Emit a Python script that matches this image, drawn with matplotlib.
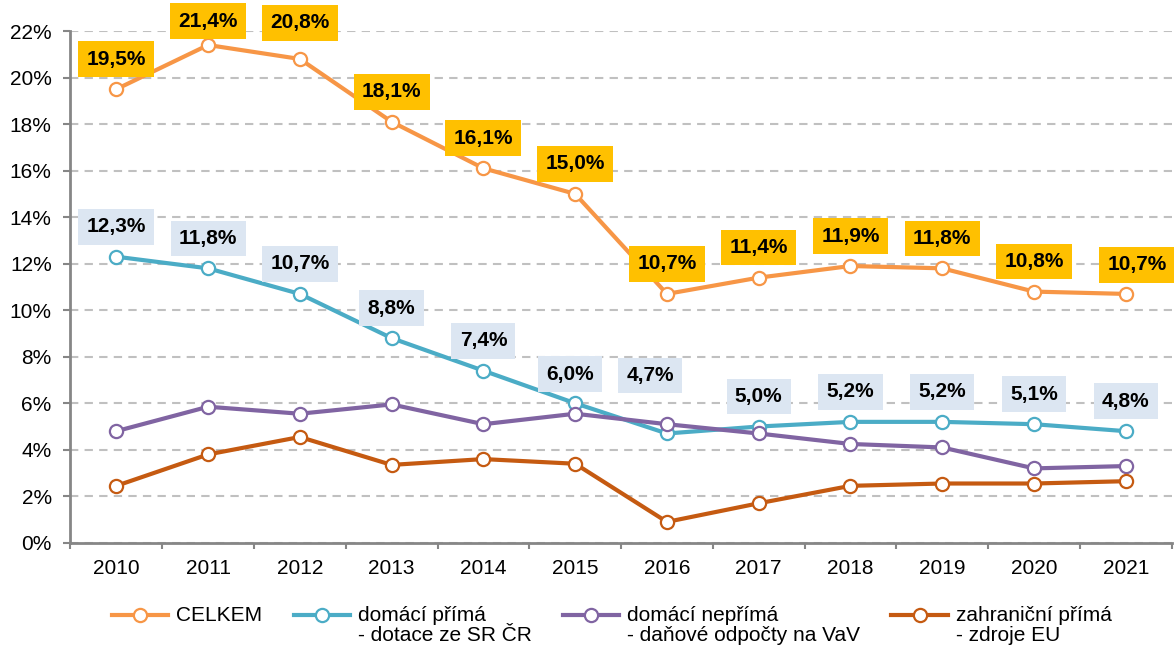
import numpy as np
import matplotlib
matplotlib.use('Agg')
import matplotlib.pyplot as plt
from matplotlib.legend_handler import HandlerLine2D
from matplotlib.lines import Line2D

plt.rcParams['font.family'] = ['Liberation Sans', 'DejaVu Sans']

# data
years = ['2010', '2011', '2012', '2013', '2014', '2015',
         '2016', '2017', '2018', '2019', '2020', '2021']
celkem = [19.5, 21.4, 20.8, 18.1, 16.1, 15.0, 10.7, 11.4, 11.9, 11.8, 10.8, 10.7]
domaci_prima = [12.3, 11.8, 10.7, 8.8, 7.4, 6.0, 4.7, 5.0, 5.2, 5.2, 5.1, 4.8]
domaci_neprima = [4.8, 5.85, 5.55, 5.95, 5.1, 5.55, 5.1, 4.7, 4.25, 4.1, 3.2, 3.3]
zahranicni_prima = [2.45, 3.8, 4.55, 3.35, 3.6, 3.4, 0.9, 1.7, 2.45, 2.55, 2.55, 2.65]
series_names = ['CELKEM\n ', 'domácí přímá\n- dotace ze SR ČR',
                'domácí nepřímá\n- daňové odpočty na VaV', 'zahraniční přímá\n- zdroje EU']

colors = ['#F79646', '#4BACC6', '#8064A2', '#C55A11']

# label offsets in pixels (dx, dy), default is straight up
orange_shift = {1: (0, 24), 2: (0, 36), 11: (11, 29)}
blue_shift = {5: (-5, 29), 6: (-17, 58)}

fig = plt.figure(figsize=(11.74, 6.47), dpi=100)
ax = fig.add_axes([0.06, 0.161, 0.938, 0.791])

x = np.arange(len(years))
all_series = [celkem, domaci_prima, domaci_neprima, zahranicni_prima]
lines = []
for vals, c, name in zip(all_series, colors, series_names):
    ln, = ax.plot(x, vals, color=c, lw=3, marker='o', markersize=9.5,
                  markerfacecolor='white', markeredgecolor=c, markeredgewidth=1.6,
                  label=name, zorder=3, clip_on=False)
    lines.append(ln)

def fmt(v):
    return f'{v:.1f}%'.replace('.', ',')

px = 72 / 100.0
for i, v in enumerate(celkem):
    dx, dy = orange_shift.get(i, (0, 30))
    ax.annotate(fmt(v), (x[i], v), xytext=(dx * px, dy * px), textcoords='offset points',
                ha='center', va='center', fontsize=15, fontweight='bold', zorder=5,
                bbox=dict(boxstyle='square,pad=0.4', fc='#FFC000', ec='none'))
for i, v in enumerate(domaci_prima):
    dx, dy = blue_shift.get(i, (0, 30))
    ax.annotate(fmt(v), (x[i], v), xytext=(dx * px, dy * px), textcoords='offset points',
                ha='center', va='center', fontsize=15, fontweight='bold', zorder=5,
                bbox=dict(boxstyle='square,pad=0.4', fc='#DCE6F2', ec='none'))

ax.set_xlim(-0.5, len(years) - 0.5)
ax.set_ylim(0, 22)
ax.set_yticks(np.arange(0, 23, 2))
ax.set_yticklabels([f'{t}%' for t in range(0, 23, 2)], fontsize=15)
ax.set_xticks(np.arange(-0.5, len(years)), labels=[''] * (len(years) + 1))
ax.set_xticks(x, labels=years, minor=True)
ax.tick_params(axis='x', which='minor', length=0, labelsize=15, pad=12)
ax.tick_params(axis='x', which='major', length=4, width=1.5, color='#868686', direction='out')
ax.tick_params(axis='y', length=5, width=1.5, color='#868686', direction='out', pad=8.5)

ax.yaxis.grid(True, linestyle=(0, (4, 3)), color='#C0C0C0', lw=1.5)
ax.set_axisbelow(True)
for s in ['top', 'right']:
    ax.spines[s].set_visible(False)
for s in ['left', 'bottom']:
    ax.spines[s].set_color('#868686')
    ax.spines[s].set_linewidth(2)


# put the legend handle next to the first line of a two-line label
class UpperHandler(HandlerLine2D):
    def create_artists(self, legend, orig_handle, xdescent, ydescent, width, height, fontsize, trans):
        artists = super().create_artists(legend, orig_handle, xdescent, ydescent,
                                         width, height, fontsize, trans)
        for a in artists:
            a.set_ydata(np.asarray(a.get_ydata()) + 0.52 * fontsize)
        return artists


leg = fig.legend(handles=lines, loc='upper left', bbox_to_anchor=(0.0796, 0.092), ncol=4,
                 frameon=False, fontsize=15, handlelength=2.7, handletextpad=0.38,
                 columnspacing=1.5, handler_map={Line2D: UpperHandler()})
for t in leg.get_texts():
    t.set_linespacing(1.05)

fig.savefig('out.png', dpi=100)
